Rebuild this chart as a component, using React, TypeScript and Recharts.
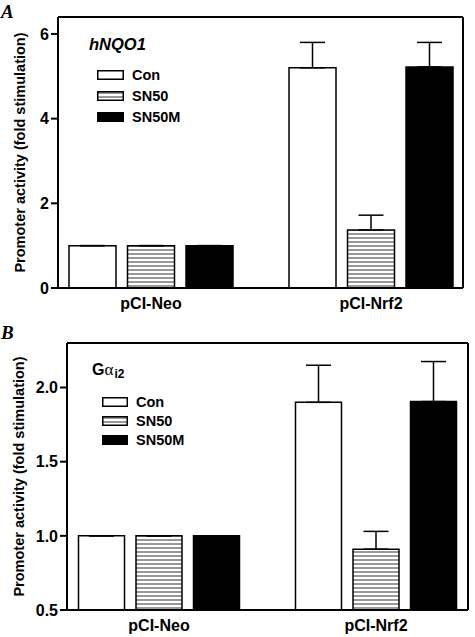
import React from 'react';
import { BarChart, Bar, XAxis, YAxis, ErrorBar, ReferenceLine, Legend } from 'recharts';

const categories = ['pCI-Neo', 'pCI-Nrf2'];
const seriesNames = ['Con', 'SN50', 'SN50M'];

// Panel A (hNQO1)
const aCon = [1.0, 5.2];
const aSn50 = [1.0, 1.37];
const aSn50m = [1.0, 5.22];
const aConErr = [0, 0.6];
const aSn50Err = [0, 0.35];
const aSn50mErr = [0, 0.58];
const aTicks = [0, 2, 4, 6];
const aDomain = [0, 6.4];

// Panel B (Gαi2)
const bCon = [1.0, 1.9];
const bSn50 = [1.0, 0.91];
const bSn50m = [1.0, 1.905];
const bConErr = [0, 0.25];
const bSn50Err = [0, 0.12];
const bSn50mErr = [0, 0.27];
const bTicks = [0.5, 1.0, 1.5, 2.0];
const bDomain = [0.5, 2.3];

const build = (con: number[], s: number[], m: number[], ce: number[], se: number[], me: number[]) =>
  categories.map((name, i) => ({
    name,
    con: con[i],
    sn50: s[i],
    sn50m: m[i],
    conErr: [0, ce[i]],
    sn50Err: [0, se[i]],
    sn50mErr: [0, me[i]],
  }));

const dataA = build(aCon, aSn50, aSn50m, aConErr, aSn50Err, aSn50mErr);
const dataB = build(bCon, bSn50, bSn50m, bConErr, bSn50Err, bSn50mErr);

const FONT = '"Liberation Sans", Arial, sans-serif';
const SERIF = '"Liberation Serif", "Times New Roman", serif';
const axisStroke = { stroke: '#000', strokeWidth: 2 };
const tickStyle = { fontSize: 16, fontWeight: 'bold', fill: '#000', fontFamily: FONT };

const Hatch = ({ id }: { id: string }) => (
  <defs>
    <pattern id={id} width={8} height={4} patternUnits="userSpaceOnUse">
      <rect x={0} y={0} width={8} height={4} fill="#fff" />
      <line x1={0} y1={2} x2={8} y2={2} stroke="#444" strokeWidth={1.1} />
    </pattern>
  </defs>
);

const makeLegend = (hatchId: string, rowH: number, boxW: number) => () => {
  const fills = ['#fff', `url(#${hatchId})`, '#000'];
  return (
    <div style={{ fontFamily: FONT, fontWeight: 'bold', fontSize: 14.5, color: '#000' }}>
      {seriesNames.map((n, i) => (
        <div key={n} style={{ display: 'flex', alignItems: 'center', height: rowH }}>
          <svg width={boxW} height={10} style={{ marginRight: 8, display: 'block' }}>
            <rect x={0.75} y={0.75} width={boxW - 1.5} height={8.5} fill={fills[i]} stroke="#000" strokeWidth={1.5} />
          </svg>
          <span style={{ lineHeight: `${rowH}px` }}>{n}</span>
        </div>
      ))}
    </div>
  );
};

const yLabel = (offset: number) => ({
  value: 'Promoter activity (fold stimulation)',
  angle: -90,
  position: 'insideLeft' as const,
  offset,
  style: { textAnchor: 'middle', fontSize: 14.5, fontWeight: 'bold', fill: '#000', fontFamily: FONT },
});

const letterStyle: React.CSSProperties = {
  position: 'absolute',
  fontFamily: SERIF,
  fontStyle: 'italic',
  fontWeight: 'bold',
  fontSize: 19,
  lineHeight: '19px',
  color: '#000',
  zIndex: 5,
};

export default function App() {
  return (
    <div style={{ position: 'fixed', left: 0, top: 0, width: 475, height: 637, background: '#fff', fontFamily: FONT }}>
      <div style={{ position: 'absolute', left: 0, top: 0 }}>
        <BarChart
          width={475}
          height={318}
          data={dataA}
          margin={{ top: 17, right: 0, bottom: 0, left: 0 }}
          barSize={47}
          barGap={11.5}
        >
          <Hatch id="hatchA" />
          <XAxis
            dataKey="name"
            height={30}
            tickLine={false}
            axisLine={axisStroke}
            tick={tickStyle}
            tickSize={6}
            tickMargin={4}
            padding={{ left: -17, right: -18 }}
            interval={0}
          />
          <YAxis
            yAxisId="l"
            width={58}
            domain={aDomain}
            ticks={aTicks}
            axisLine={axisStroke}
            tickLine={axisStroke}
            tickSize={7}
            tickMargin={2}
            tick={tickStyle}
            label={yLabel(20)}
          />
          <YAxis
            yAxisId="r"
            orientation="right"
            width={12}
            domain={aDomain}
            ticks={aTicks}
            axisLine={axisStroke}
            tickLine={axisStroke}
            tickSize={7}
            tick={false}
          />
          <ReferenceLine yAxisId="l" y={aDomain[1]} stroke="#000" strokeWidth={2} />
          <Legend
            layout="vertical"
            verticalAlign="middle"
            align="center"
            wrapperStyle={{ left: 97, top: 64.5, width: 120 }}
            content={makeLegend('hatchA', 21, 27)}
          />
          <Bar yAxisId="l" dataKey="con" fill="#fff" stroke="#000" strokeWidth={1.5} isAnimationActive={false}>
            <ErrorBar dataKey="conErr" width={12.5} stroke="#000" strokeWidth={1.5} isAnimationActive={false} />
          </Bar>
          <Bar yAxisId="l" dataKey="sn50" fill="url(#hatchA)" stroke="#000" strokeWidth={1.5} isAnimationActive={false}>
            <ErrorBar dataKey="sn50Err" width={12.5} stroke="#000" strokeWidth={1.5} isAnimationActive={false} />
          </Bar>
          <Bar yAxisId="l" dataKey="sn50m" fill="#000" stroke="#000" strokeWidth={1.5} isAnimationActive={false}>
            <ErrorBar dataKey="sn50mErr" width={12.5} stroke="#000" strokeWidth={1.5} isAnimationActive={false} />
          </Bar>
          <text x={89} y={50} fontFamily={FONT} fontStyle="italic" fontWeight="bold" fontSize={16.5} fill="#000">
            hNQO1
          </text>
        </BarChart>
      </div>
      <div style={{ position: 'absolute', left: 0, top: 318 }}>
        <BarChart
          width={475}
          height={319}
          data={dataB}
          margin={{ top: 25, right: 0, bottom: 0, left: 0 }}
          barSize={46}
          barGap={11.5}
        >
          <Hatch id="hatchB" />
          <XAxis
            dataKey="name"
            height={27}
            tickLine={false}
            axisLine={axisStroke}
            tick={tickStyle}
            tickSize={6}
            tickMargin={4}
            padding={{ left: -16.5, right: -16.5 }}
            interval={0}
          />
          <YAxis
            yAxisId="l"
            width={67}
            domain={bDomain}
            ticks={bTicks}
            axisLine={axisStroke}
            tickLine={axisStroke}
            tickSize={7}
            tickMargin={2}
            tick={tickStyle}
            tickFormatter={(v: number) => v.toFixed(1)}
            label={yLabel(19)}
          />
          <YAxis
            yAxisId="r"
            orientation="right"
            width={7}
            domain={bDomain}
            ticks={bTicks}
            axisLine={axisStroke}
            tickLine={axisStroke}
            tickSize={7}
            tick={false}
          />
          <ReferenceLine yAxisId="l" y={bDomain[1]} stroke="#000" strokeWidth={2} />
          <Legend
            layout="vertical"
            verticalAlign="middle"
            align="center"
            wrapperStyle={{ left: 102, top: 74.5, width: 120 }}
            content={makeLegend('hatchB', 19, 26)}
          />
          <Bar yAxisId="l" dataKey="con" fill="#fff" stroke="#000" strokeWidth={1.5} isAnimationActive={false}>
            <ErrorBar dataKey="conErr" width={12.5} stroke="#000" strokeWidth={1.5} isAnimationActive={false} />
          </Bar>
          <Bar yAxisId="l" dataKey="sn50" fill="url(#hatchB)" stroke="#000" strokeWidth={1.5} isAnimationActive={false}>
            <ErrorBar dataKey="sn50Err" width={12.5} stroke="#000" strokeWidth={1.5} isAnimationActive={false} />
          </Bar>
          <Bar yAxisId="l" dataKey="sn50m" fill="#000" stroke="#000" strokeWidth={1.5} isAnimationActive={false}>
            <ErrorBar dataKey="sn50mErr" width={12.5} stroke="#000" strokeWidth={1.5} isAnimationActive={false} />
          </Bar>
          <text x={92} y={57} fontFamily={FONT} fontWeight="bold" fontSize={16} fill="#000">
            G
            <tspan fontFamily={SERIF} fontWeight="normal" fontSize={17}>α</tspan>
            <tspan fontSize={12} dx={1} dy={3}>i2</tspan>
          </text>
        </BarChart>
      </div>
      <div style={{ ...letterStyle, left: 1, top: 2 }}>A</div>
      <div style={{ ...letterStyle, left: 1, top: 323 }}>B</div>
    </div>
  );
}
